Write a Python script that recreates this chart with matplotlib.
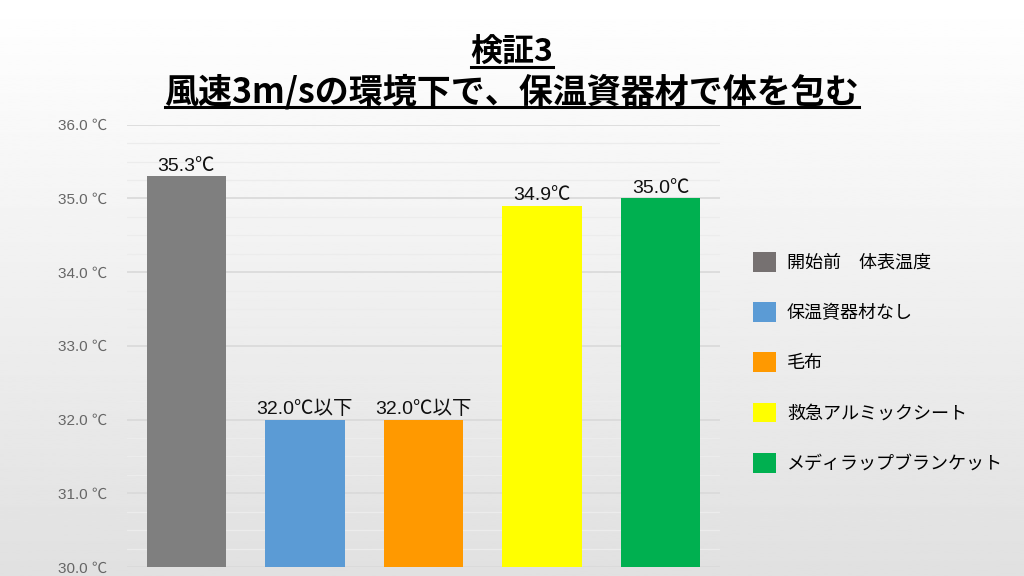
import numpy as np
import matplotlib
matplotlib.use("Agg")
import matplotlib.pyplot as plt
from matplotlib.lines import Line2D
from matplotlib.patches import Patch

plt.rcParams["font.family"] = ["Noto Sans CJK JP", "DejaVu Sans"]
num_font = ["Liberation Sans", "Noto Sans CJK JP", "DejaVu Sans"]

# data
categories = ["開始前　体表温度", "保温資器材なし", "毛布", "救急アルミックシート", "メディラップブランケット"]
temps = [35.3, 32.0, 32.0, 34.9, 35.0]
value_labels = ["35.3℃", "32.0℃以下", "32.0℃以下", "34.9℃", "35.0℃"]
colors = ["#7f7f7f", "#5b9bd5", "#ff9900", "#ffff00", "#00b050"]
legend_colors = ["#767171", "#5b9bd5", "#ff9900", "#ffff00", "#00b050"]
yticks = [30.0, 31.0, 32.0, 33.0, 34.0, 35.0, 36.0]

fig = plt.figure(figsize=(10.24, 5.76), dpi=100)

# background gradient (white -> light gray)
bg = fig.add_axes([0, 0, 1, 1], zorder=-10)
grad = np.linspace(1.0, 0.88, 256).reshape(-1, 1)
bg.imshow(grad, aspect="auto", cmap="gray", vmin=0, vmax=1, extent=[0, 1, 0, 1])
bg.axis("off")

ax = fig.add_axes([0.124, 0.0156, 0.579, 0.768])
ax.patch.set_alpha(0)
x = np.arange(len(temps))
bars = ax.bar(x, [t - 30.0 for t in temps], bottom=30.0, width=0.67, color=colors, zorder=3)
ax.bar_label(bars, labels=value_labels, padding=1, fontsize=14, color="#111111",
             family=num_font)

ax.set_xlim(-0.5, 4.5)
ax.set_ylim(30.0, 36.0)
ax.set_yticks(yticks)
ax.set_yticklabels([f"{t:.1f} ℃" for t in yticks], fontsize=11, color="#666666",
                   family=num_font)
ax.set_yticks(np.arange(30.0, 36.0, 0.25), minor=True)
ax.grid(axis="y", which="major", color="#d9d9d9", linewidth=1.2, zorder=0)
ax.grid(axis="y", which="minor", color="#ececec", linewidth=0.9, zorder=0)
ax.tick_params(axis="y", which="both", length=0, pad=14)
ax.set_xticks([])
for s in ax.spines.values():
    s.set_visible(False)

# legend
handles = [Patch(facecolor=c, edgecolor="none") for c in legend_colors]
fig.legend(handles, categories, loc="upper left", bbox_to_anchor=(0.728, 0.575),
           frameon=False, fontsize=13, handlelength=1.3, handleheight=1.3,
           labelspacing=1.68, handletextpad=0.6, borderaxespad=0)

# title with underlines
t1 = fig.text(0.5, 0.908, "検証3", ha="center", va="center", fontsize=23, fontweight="bold")
t2 = fig.text(0.5, 0.840, "風速3m/sの環境下で、保温資器材で体を包む", ha="center", va="center",
              fontsize=24.5, fontweight="bold")
fig.canvas.draw()
r = fig.canvas.get_renderer()
for t, yy in [(t1, 0.884), (t2, 0.814)]:
    bb = t.get_window_extent(r)
    x0, x1 = bb.x0 / fig.bbox.width, bb.x1 / fig.bbox.width
    fig.add_artist(Line2D([x0, x1], [yy, yy], color="black", linewidth=2.2))

fig.savefig("out.png", dpi=100)
